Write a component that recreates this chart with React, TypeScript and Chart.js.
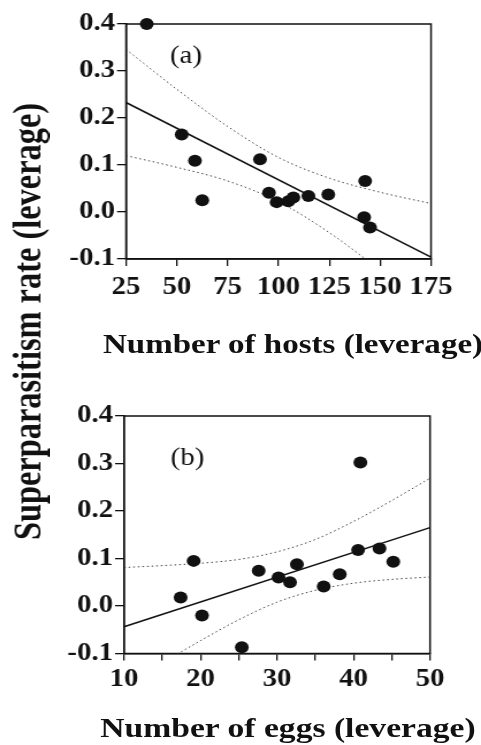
import React, { useEffect, useRef } from 'react';
import { Chart, registerables } from 'chart.js';

Chart.register(...registerables);

// ---------- data ----------
const hostsX = [35.2, 52.4, 58.9, 62.5, 90.9, 95.3, 99.1, 104.8, 107.3, 114.7, 124.5, 142.6, 142.1, 145.0];
const hostsY = [0.400, 0.165, 0.109, 0.025, 0.112, 0.041, 0.021, 0.023, 0.031, 0.034, 0.037, 0.066, -0.011, -0.033];
const hostsFitX = [25, 175];
const hostsFitY = [0.233, -0.096];
const hostsBandX = [25, 50, 75, 100, 125, 150, 175];
const hostsUpper = [0.346, 0.261, 0.182, 0.116, 0.072, 0.042, 0.018];
const hostsLower = [0.120, 0.095, 0.066, 0.022, -0.044, -0.124, -0.208];
const hostsTicks = [25, 50, 75, 100, 125, 150, 175];

const eggsX = [17.4, 19.1, 20.2, 25.4, 27.6, 30.2, 31.7, 32.6, 36.1, 38.2, 40.9, 40.6, 43.4, 45.2];
const eggsY = [0.018, 0.095, -0.020, -0.087, 0.074, 0.060, 0.050, 0.088, 0.041, 0.067, 0.302, 0.118, 0.121, 0.093];
const eggsFitX = [10, 50];
const eggsFitY = [-0.0435, 0.165];
const eggsBandX = [10, 15, 20, 25, 30, 35, 40, 45, 50];
const eggsUpper = [0.081, 0.085, 0.090, 0.098, 0.114, 0.140, 0.178, 0.222, 0.269];
const eggsLower = [-0.168, -0.120, -0.073, -0.029, 0.008, 0.033, 0.048, 0.056, 0.061];
const eggsTicks = [10, 15, 20, 25, 30, 35, 40, 45, 50];
const eggsLabelledTicks = [10, 20, 30, 40, 50];

const yTicks = [-0.1, 0.0, 0.1, 0.2, 0.3, 0.4];

const panelLabels = ['(a)', '(b)'];
const panelLabelAt = [
  { x: 54.5, y: 0.33 },
  { x: 18.3, y: 0.31 },
];

const yTitle = 'Superparasitism rate (leverage)';
const xTitles = ['Number of hosts (leverage)', 'Number of eggs (leverage)'];

// ---------- layout ----------
const W = 481;
const CW = 418; // canvas internal width; stretched to W by CSS
const S = W / CW;
const INK = '#111';
const tickFont = { family: "'Liberation Serif', 'Times New Roman', serif", weight: 'bold' as const, size: 25 };

const pts = (xs: number[], ys: number[]) => xs.map((x, i) => ({ x, y: ys[i] }));

const framePlugin = {
  id: 'frame',
  beforeDatasetsDraw(chart: any) {
    const { ctx, chartArea: a } = chart;
    ctx.save();
    ctx.strokeStyle = INK;
    ctx.lineWidth = 1.5;
    ctx.strokeRect(a.left, a.top, a.right - a.left, a.bottom - a.top);
    ctx.restore();
  },
  afterDraw(chart: any) {
    const o = chart.options.plugins.frame;
    if (!o) return;
    const { ctx, scales } = chart;
    ctx.save();
    ctx.fillStyle = INK;
    ctx.font = "25px 'Liberation Serif', 'Times New Roman', serif";
    ctx.textAlign = 'center';
    ctx.textBaseline = 'middle';
    ctx.fillText(o.text, scales.x.getPixelForValue(o.x), scales.y.getPixelForValue(o.y));
    ctx.restore();
  },
};

interface PanelSpec {
  xs: number[]; ys: number[];
  fitX: number[]; fitY: number[];
  bandX: number[]; upper: number[]; lower: number[];
  xTicks: number[]; xLabelled: number[];
  xMin: number; xMax: number;
  label: string; labelAt: { x: number; y: number };
  height: number; padTop: number; padRight: number; yWidth: number; xHeight: number; xTickPad: number;
}

function makeConfig(p: PanelSpec): any {
  const band = (vals: number[]) => ({
    data: pts(p.bandX, vals),
    showLine: true,
    borderColor: '#444',
    borderWidth: 1,
    borderDash: [1.5, 2.5],
    pointRadius: 0,
    cubicInterpolationMode: 'monotone',
    clip: 0,
  });
  return {
    type: 'scatter',
    data: {
      datasets: [
        { data: pts(p.xs, p.ys), backgroundColor: INK, borderWidth: 0, pointRadius: 6, clip: false },
        { data: pts(p.fitX, p.fitY), showLine: true, borderColor: INK, borderWidth: 1.6, pointRadius: 0, clip: 0 },
        band(p.upper),
        band(p.lower),
      ],
    },
    options: {
      animation: false,
      responsive: false,
      events: [],
      layout: { padding: { top: p.padTop, right: p.padRight, left: 0, bottom: 0 } },
      plugins: {
        legend: { display: false },
        tooltip: { enabled: false },
        frame: { text: p.label, x: p.labelAt.x, y: p.labelAt.y },
      },
      scales: {
        x: {
          type: 'linear',
          min: p.xMin,
          max: p.xMax,
          afterBuildTicks: (s: any) => { s.ticks = p.xTicks.map((v) => ({ value: v })); },
          afterFit: (s: any) => { s.height = p.xHeight; },
          ticks: {
            font: tickFont,
            color: INK,
            padding: p.xTickPad,
            maxRotation: 0,
            autoSkip: false,
            callback: (v: number) => (p.xLabelled.includes(v) ? String(v) : ''),
          },
          grid: { display: true, drawOnChartArea: false, drawTicks: true, tickLength: 7, color: INK, lineWidth: 1.3 },
          border: { display: true, color: INK, width: 1.5 },
        },
        y: {
          type: 'linear',
          min: yTicks[0],
          max: yTicks[yTicks.length - 1],
          afterBuildTicks: (s: any) => { s.ticks = yTicks.map((v) => ({ value: v })); },
          afterFit: (s: any) => { s.width = p.yWidth; },
          ticks: {
            font: tickFont,
            color: INK,
            padding: 2 / S,
            autoSkip: false,
            callback: (v: number) => (Math.abs(v) < 1e-9 ? 0 : v).toFixed(1),
          },
          grid: { display: true, drawOnChartArea: false, drawTicks: true, tickLength: 9 / S, color: INK, lineWidth: 1.3 },
          border: { display: true, color: INK, width: 1.5 },
        },
      },
    },
    plugins: [framePlugin],
  };
}

const panels: PanelSpec[] = [
  {
    xs: hostsX, ys: hostsY, fitX: hostsFitX, fitY: hostsFitY,
    bandX: hostsBandX, upper: hostsUpper, lower: hostsLower,
    xTicks: hostsTicks, xLabelled: hostsTicks, xMin: 25, xMax: 175,
    label: panelLabels[0], labelAt: panelLabelAt[0],
    height: 372, padTop: 24, padRight: 50 / S, yWidth: 126 / S, xHeight: 113, xTickPad: 7,
  },
  {
    xs: eggsX, ys: eggsY, fitX: eggsFitX, fitY: eggsFitY,
    bandX: eggsBandX, upper: eggsUpper, lower: eggsLower,
    xTicks: eggsTicks, xLabelled: eggsLabelledTicks, xMin: 10, xMax: 50,
    label: panelLabels[1], labelAt: panelLabelAt[1],
    height: 373, padTop: 44, padRight: 51 / S, yWidth: 124 / S, xHeight: 91.5, xTickPad: 4,
  },
];

function Panel({ spec, top }: { spec: PanelSpec; top: number }) {
  const ref = useRef<HTMLCanvasElement | null>(null);
  useEffect(() => {
    if (!ref.current) return;
    const chart = new Chart(ref.current, makeConfig(spec));
    return () => chart.destroy();
  }, [spec]);
  return (
    <canvas
      ref={ref}
      width={CW}
      height={spec.height}
      style={{ position: 'absolute', left: 0, top, width: W, height: spec.height }}
    />
  );
}

const titleBase: React.CSSProperties = {
  position: 'absolute',
  fontFamily: "'Liberation Serif', 'Times New Roman', serif",
  fontWeight: 'bold',
  color: INK,
  whiteSpace: 'nowrap',
  textAlign: 'center',
  transformOrigin: '50% 50%',
};

export default function App() {
  return (
    <div style={{ position: 'absolute', left: 0, top: 0, width: W, height: 745, overflow: 'hidden', background: '#fff' }}>
      <Panel spec={panels[0]} top={0} />
      <Panel spec={panels[1]} top={372} />
      <div
        style={{
          ...titleBase,
          left: 26.6 - 350, top: 321 - 20.5, width: 700, height: 41,
          fontSize: 41, lineHeight: '41px',
          transform: 'rotate(-90deg) scaleX(0.79)',
        }}
      >
        {yTitle}
      </div>
      <div
        style={{
          ...titleBase,
          left: 292.5 - 300, top: 329.5, width: 600, height: 28,
          fontSize: 28, lineHeight: '28px',
          transform: 'scaleX(1.18)',
        }}
      >
        {xTitles[0]}
      </div>
      <div
        style={{
          ...titleBase,
          left: 288 - 300, top: 713.5, width: 600, height: 28,
          fontSize: 28, lineHeight: '28px',
          transform: 'scaleX(1.2)',
        }}
      >
        {xTitles[1]}
      </div>
    </div>
  );
}
